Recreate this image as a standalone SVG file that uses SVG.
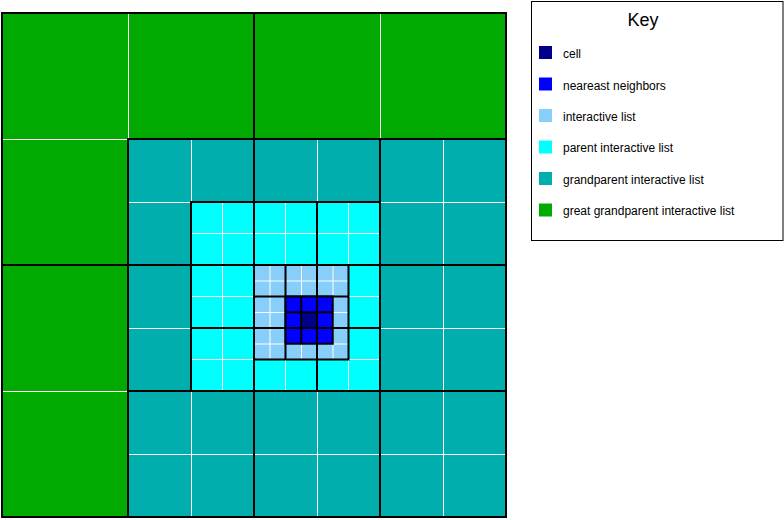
<svg xmlns="http://www.w3.org/2000/svg" width="784" height="520" viewBox="0 0 784 520">
<style>
.w{stroke:#fff;stroke-width:1;fill:none}
.k{stroke:#000;stroke-width:2;fill:none}
.t{font-family:"Liberation Sans",Arial,sans-serif;font-size:12px;fill:#000}
</style>
<rect width="784" height="520" fill="#fff"/>
<g id="great-grandparent">
<rect x="2" y="13" width="504" height="504" fill="#00AA00"/>
<path class="w" d="M128.5 13V517M380.5 13V517M2 139.5H506M2 391.5H506"/>
<path class="k" d="M254 13V517M2 265H506"/>
<rect class="k" x="2" y="13" width="504" height="504"/>
</g>
<g id="grandparent">
<rect x="128" y="139" width="378" height="378" fill="#00AEAE"/>
<path class="w" d="M191.5 139V517M317.5 139V517M443.5 139V517M128 202.5H506M128 328.5H506M128 454.5H506"/>
<path class="k" d="M254 139V517M380 139V517M128 265H506M128 391H506"/>
<rect class="k" x="128" y="139" width="378" height="378"/>
</g>
<g id="parent">
<rect x="191" y="202" width="189" height="189" fill="#00FFFF"/>
<path class="w" d="M222.5 202V391M285.5 202V391M348.5 202V391M191 233.5H380M191 296.5H380M191 359.5H380"/>
<path class="k" d="M254 202V391M317 202V391M191 265H380M191 328H380"/>
<rect class="k" x="191" y="202" width="189" height="189"/>
</g>
<g id="interactive">
<rect x="254" y="265" width="94.5" height="94.5" fill="#87CEFA"/>
<path class="w" d="M270 265V359.5M301.5 265V359.5M333 265V359.5M254 281H348.5M254 312.5H348.5M254 344H348.5"/>
<path class="k" d="M285.5 265V359.5M317 265V359.5M254 296.5H348.5M254 328H348.5"/>
<rect class="k" x="254" y="265" width="94.5" height="94.5"/>
</g>
<g id="neighbors">
<rect x="285.5" y="296.5" width="47.25" height="47.25" fill="#0000FF"/>
<rect id="cell" x="301.25" y="312.25" width="15.75" height="15.75" fill="#00008B"/>
<path class="k" d="M301.25 296.5V343.75M317 296.5V343.75M285.5 312.25H332.75M285.5 328H332.75"/>
<rect class="k" x="285.5" y="296.5" width="47.25" height="47.25"/>
</g>
<g id="key">
<rect x="531.5" y="1.5" width="251.5" height="239" fill="#fff" stroke="#000" stroke-width="1"/>
<text x="643" y="26" text-anchor="middle" style="font-family:'Liberation Sans',Arial,sans-serif;font-size:18px">Key</text>
<rect x="539" y="46" width="13" height="13" fill="#00008B"/>
<text class="t" x="563" y="58.3">cell</text>
<rect x="539" y="77.5" width="13" height="13" fill="#0000FF"/>
<text class="t" x="563" y="89.8">neareast neighbors</text>
<rect x="539" y="109" width="13" height="13" fill="#87CEFA"/>
<text class="t" x="563" y="121">interactive list</text>
<rect x="539" y="140.5" width="13" height="13" fill="#00FFFF"/>
<text class="t" x="563" y="152.3">parent interactive list</text>
<rect x="539" y="172" width="13" height="13" fill="#00AEAE"/>
<text class="t" x="563" y="183.6">grandparent interactive list</text>
<rect x="539" y="203.5" width="13" height="13" fill="#00AA00"/>
<text class="t" x="563" y="215">great grandparent interactive list</text>
</g>
</svg>
